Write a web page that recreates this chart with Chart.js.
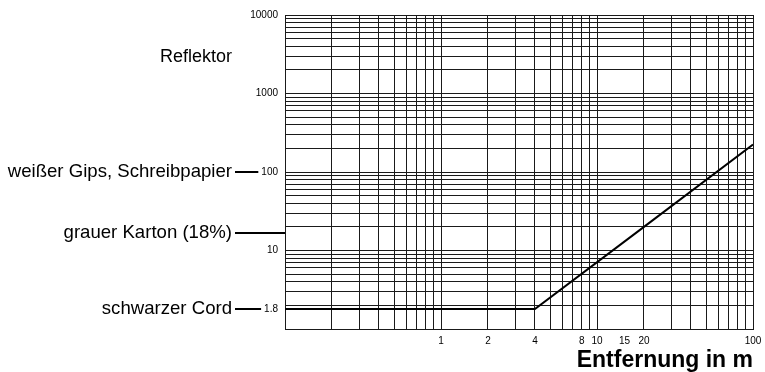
<!DOCTYPE html>
<html>
	<head>
		<meta http-equiv="content-type" content="text/html; charset=UTF-8">
		<script src="https://cdn.jsdelivr.net/npm/chart.js@4/dist/chart.umd.min.js"></script>
		<style>
			body { margin: 0; background: #fff; }
		</style>
	</head>
	<body>
		<canvas id="reflex-chart" width="765" height="372"></canvas>
		<script type="text/javascript">
			// distance (m) against the light value
			var distance = [0.1, 4, 20, 100];
			var reflexValue = [1.8, 1.8, 20, 224];

			// tick labels that carry text
			var xLabels = [1, 2, 4, 8, 10, 15, 20, 100];
			var yLabels = [1.8, 10, 100, 1000, 10000];

			// materials marked on the left side
			var materials = ['weißer Gips, Schreibpapier', 'grauer Karton (18%)', 'schwarzer Cord'];
			var materialLevels = [100, 16.7, 1.8];
			var sideTitle = 'Reflektor';
			var sideTitleLevel = 2950;

			var fontFamily = "'Liberation Sans', Arial, Helvetica, sans-serif";
			Chart.defaults.font.family = fontFamily;
			Chart.defaults.color = '#000';

			// log grid positions: 1..9 for every decade
			function logGrid(min, max) {
				var out = [];
				for (var d = min; d < max; d *= 10) {
					for (var k = 1; k < 10; k++) out.push(+(d * k).toPrecision(3));
				}
				out.push(max);
				return out;
			}

			var xGrid = logGrid(0.1, 100);
			var yGrid = logGrid(1, 10000);

			// tick lists = grid lines plus the labelled values
			var xTicks = xGrid.slice();
			xLabels.forEach(function(v) { if (xTicks.indexOf(v) < 0) xTicks.push(v); });
			xTicks.sort(function(a, b) { return a - b; });
			var yTicks = yGrid.slice();
			yLabels.forEach(function(v) { if (yTicks.indexOf(v) < 0) yTicks.push(v); });
			yTicks.sort(function(a, b) { return a - b; });

			var points = distance.map(function(d, i) { return { x: d, y: reflexValue[i] }; });

			// left side labels with their connecting lines
			var sideLabels = {
				id: 'sideLabels',
				afterDraw: function(chart) {
					var ctx = chart.ctx;
					var yScale = chart.scales.y;
					var axisLeft = chart.chartArea.left;
					ctx.save();
					ctx.fillStyle = '#000';
					ctx.strokeStyle = '#000';
					ctx.textBaseline = 'middle';
					ctx.textAlign = 'right';
					ctx.font = '18px ' + fontFamily;
					ctx.fillText(sideTitle, 232, yScale.getPixelForValue(sideTitleLevel));
					materials.forEach(function(name, i) {
						var y = Math.round(yScale.getPixelForValue(materialLevels[i]));
						ctx.font = '18.6px ' + fontFamily;
						ctx.fillText(name, 232, y);
						var end = axisLeft;
						if (yLabels.indexOf(materialLevels[i]) >= 0) {
							ctx.font = '10px ' + fontFamily;
							end = axisLeft - 7 - ctx.measureText(String(materialLevels[i])).width - 3;
						}
						ctx.lineWidth = 2;
						ctx.beginPath();
						ctx.moveTo(235, y);
						ctx.lineTo(end, y);
						ctx.stroke();
					});
					ctx.restore();
				}
			};

			var ctx = document.getElementById('reflex-chart');
			var reflexChart = new Chart(ctx, {
				type: 'scatter',
				data: {
					datasets: [{
						data: points,
						showLine: true,
						borderColor: '#000',
						borderWidth: 2,
						pointRadius: 0,
						tension: 0
					}]
				},
				options: {
					responsive: false,
					animation: false,
					layout: { padding: { left: 0, right: 12, top: 15, bottom: 0 } },
					plugins: { legend: { display: false }, tooltip: { enabled: false } },
					scales: {
						x: {
							type: 'logarithmic',
							min: 0.1,
							max: 100,
							afterBuildTicks: function(scale) {
								scale.ticks = xTicks.map(function(v) { return { value: v }; });
							},
							afterFit: function(scale) {
								scale.height = 43;
								scale.paddingLeft = 0;
								scale.paddingRight = 0;
							},
							ticks: {
								autoSkip: false,
								maxRotation: 0,
								padding: 6,
								font: { size: 10 },
								color: '#000',
								callback: function(value) {
									return xLabels.indexOf(value) >= 0 ? String(value) : '';
								}
							},
							grid: {
								drawTicks: false,
								color: function(c) {
									return c.tick && xGrid.indexOf(c.tick.value) >= 0 ? '#1a1a1a' : 'rgba(0,0,0,0)';
								}
							},
							border: { color: '#1a1a1a' },
							title: {
								display: true,
								text: 'Entfernung in m',
								align: 'end',
								color: '#000',
								padding: { top: 0, bottom: -2 },
								font: { size: 23, weight: 'bold' }
							}
						},
						y: {
							type: 'logarithmic',
							min: 1,
							max: 10000,
							afterBuildTicks: function(scale) {
								scale.ticks = yTicks.map(function(v) { return { value: v }; });
							},
							afterFit: function(scale) { scale.width = 285; },
							ticks: {
								autoSkip: false,
								padding: 7,
								font: { size: 10 },
								color: '#000',
								callback: function(value) {
									return yLabels.indexOf(value) >= 0 ? String(value) : '';
								}
							},
							grid: {
								drawTicks: false,
								color: function(c) {
									return c.tick && yGrid.indexOf(c.tick.value) >= 0 ? '#1a1a1a' : 'rgba(0,0,0,0)';
								}
							},
							border: { color: '#1a1a1a' }
						}
					}
				},
				plugins: [sideLabels]
			});
		</script>
	</body>
</html>
